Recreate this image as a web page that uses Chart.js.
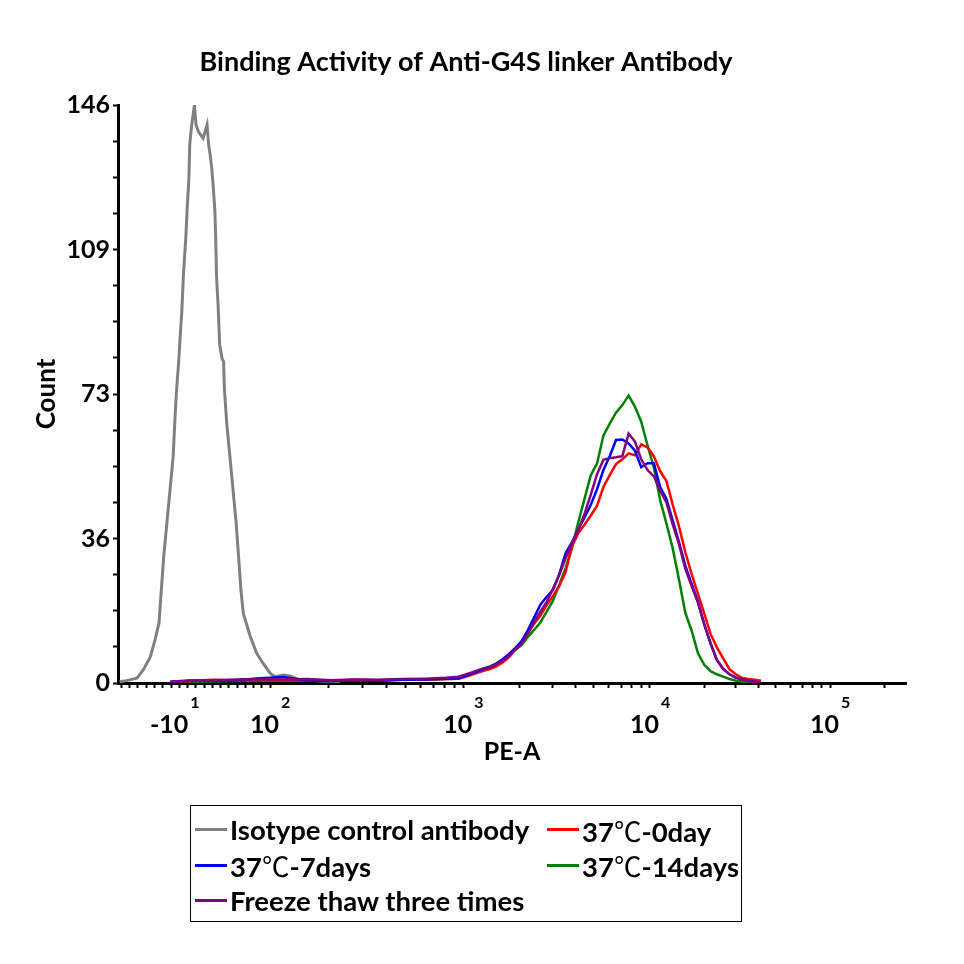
<!DOCTYPE html>
<html>
<head>
<meta charset="utf-8">
<script src="https://cdn.jsdelivr.net/npm/chart.js@4.4.0/dist/chart.umd.min.js"></script>
<style>
  body { margin: 0; background: #fff; }
  #wrap { position: relative; width: 964px; height: 964px; }
  #legend {
    position: absolute; left: 190px; top: 805px; width: 552px; height: 117px;
    box-sizing: border-box; border: 1px solid #000; padding: 6px 0 0 4px;
    display: grid; grid-template-columns: 352px auto; grid-auto-rows: 35.5px;
    font: bold 27.5px Lato, 'Noto Sans CJK SC', sans-serif; color: #000;
  }
  .item { display: flex; align-items: center; white-space: nowrap; }
  .swatch { width: 32px; height: 3px; margin-right: 3px; flex: none; }
  .deg { font-family: 'Noto Sans CJK SC'; font-weight: normal; }
</style>
</head>
<body>
<div id="wrap">
  <canvas id="histChart" width="964" height="964"></canvas>
  <div id="legend"></div>
</div>
<script>
// Binding activity histograms (PE-A), counts per display channel (0..1000 across the plot)
var seriesNames = ['Isotype control antibody', '37℃-0day', '37℃-7days', '37℃-14days', 'Freeze thaw three times'];
var seriesColors = ['#808080', '#ff0000', '#0000ff', '#008000', '#800080'];

var isoChannels = [2, 11, 24, 32, 41, 47, 52, 55, 58, 62, 66, 70, 72, 74, 77, 79, 81, 83, 86, 88,
  90, 91, 93, 97, 99, 102, 108, 113, 115, 117, 119, 121, 123, 124, 125, 127, 129, 132, 134, 135,
  138, 142, 146, 150, 153, 156, 159, 168, 176, 184, 193, 199, 210, 218, 231, 256, 282];
var isoCounts = [0.3, 0.6, 1.2, 3.3, 6.6, 10.9, 15.1, 23.5, 31.9, 40.3, 48.7, 57.2, 65.6, 73, 81.2, 87.9, 93.8, 103, 112.3, 120.7,
  127.5, 135.9, 140.1, 146, 141, 139.3, 137.6, 141, 136, 133.4, 130, 125, 119, 112.3, 103, 95.5, 85.4, 82, 81.2, 74.4,
  65.6, 57.2, 48.7, 40.3, 31.9, 23.5, 17.6, 11.7, 7.5, 5, 2.5, 1.6, 2, 1.8, 0.8, 0.5, 0.3];

var posChannels = [66, 90, 120, 150, 180, 210, 240, 270, 300, 330, 360, 390, 416,
  432, 440, 448, 456, 464, 472, 480, 488, 496, 504, 512, 520, 528, 536, 544, 552, 560, 568, 576, 584,
  592, 600, 608, 616, 624, 632, 640, 648, 656, 664, 672, 680, 688, 696, 704, 712, 720, 728, 736, 744,
  752, 760, 768, 776, 784, 792, 800, 808, 816];
var day0Counts = [0.2, 0.5, 0.8, 0.6, 1.0, 0.7, 0.9, 0.6, 0.8, 0.7, 0.9, 0.8, 1.0,
  1.1, 1.5, 2.0, 2.6, 3.1, 3.5, 4.2, 5.2, 6.5, 8.5, 10.4, 12.5, 15, 17, 19.7, 22, 24.5, 28, 34.5, 37.8,
  40, 42.3, 44.8, 49.5, 52.5, 55.3, 56.5, 58, 57.5, 60.3, 59.5, 57.3, 53.5, 51, 45, 39.5, 33, 27.5, 22.5, 17.5,
  12.4, 9, 6.2, 3.5, 2.2, 1.3, 1.0, 0.8, 0.6];
var day7Counts = [0.3, 0.6, 0.5, 0.7, 1.2, 1.5, 0.6, 0.5, 0.7, 0.6, 0.8, 0.9, 1.1,
  1.2, 1.7, 2.3, 2.9, 3.5, 4.0, 4.9, 6.0, 7.3, 8.8, 10.5, 13.3, 16.5, 19.8, 21.8, 23.5, 27.5, 32.8, 35.5, 38.7,
  41.8, 45, 49, 53.8, 57.3, 61.4, 61.5, 60.5, 58.7, 54.5, 55.5, 55.5, 49.5, 46.5, 41, 35.5, 29.6, 25, 20.5, 14.8,
  10, 5.8, 3.5, 2.2, 1.3, 0.9, 0.6, 0.3, 0];
var day14Counts = [0.1, 0.3, 0.4, 0.5, 0.6, 0.5, 0.6, 0.5, 0.7, 0.6, 0.8, 0.9, 1.0,
  1.1, 1.8, 2.4, 3.0, 3.7, 4.2, 4.9, 5.8, 7.0, 8.3, 9.6, 11.6, 13.4, 15.3, 18.0, 20.8, 24.8, 29, 34, 40.5,
  46.5, 52.5, 55.5, 62.5, 65.5, 68.3, 70.2, 72.6, 69.8, 66, 60, 54.5, 46.2, 40.3, 34, 26, 17.7, 13.2, 7.5, 4.6,
  3, 2.2, 1.6, 1.0, 0.6, 0.3, 0.2, 0.1, 0];
var freezeCounts = [0.3, 0.5, 0.7, 0.9, 1.0, 0.9, 1.0, 0.7, 0.9, 0.8, 1.0, 1.1, 1.3,
  1.6, 2.1, 2.6, 3.2, 3.7, 4.0, 4.7, 5.6, 6.8, 8.4, 9.8, 12.5, 15.3, 18, 20.5, 23.8, 27.3, 31.5, 35.3, 38.6,
  42.7, 47.6, 52.8, 56.4, 56.8, 57, 57.3, 63, 61, 56.5, 53.8, 52.2, 48.6, 45.6, 40, 35, 28.8, 24.5, 20.3, 14.8,
  10, 5.8, 3.6, 2.2, 1.4, 0.9, 0.5, 0.2, 0];

// axis values
var yMax = 146;
var xMajorValues = [-10, 100, 1000, 10000, 100000];

// biexponential display: linear up to 10^2, log decades above
var decadeChannel = [192.9, 438.2, 675.1, 903.6]; // 10^2 .. 10^5
var linPerUnit = 1.047;
function toChannel(v) {
  if (v <= 100) return decadeChannel[0] + (v - 100) * linPerUnit;
  var d = Math.log10(v) - 2;
  var i = Math.min(Math.floor(d), 2);
  return decadeChannel[i] + (d - i) * (decadeChannel[i + 1] - decadeChannel[i]);
}

var xTickValues = [];
for (var v = -80; v < 100; v += 10) xTickValues.push(v);
[100, 1000, 10000].forEach(function (dec) {
  for (var m = 1; m < 10; m++) xTickValues.push(m * dec);
});
xTickValues.push(100000, 200000);

function points(chs, counts) {
  return chs.map(function (c, i) { return {x: c, y: counts[i]}; });
}

// 10^n labels with raised exponent
var expLabels = {
  id: 'expLabels',
  afterDraw: function (chart) {
    var ctx = chart.ctx, xs = chart.scales.x;
    ctx.save();
    ctx.fillStyle = '#000';
    ctx.textBaseline = 'middle';
    xMajorValues.forEach(function (v) {
      var px = xs.getPixelForValue(toChannel(v));
      ctx.font = 'bold 25px Lato';
      ctx.textAlign = 'right';
      ctx.fillText(v < 0 ? '-10' : '10', px + 9, xs.top + 42);
      ctx.font = 'bold 16px Lato';
      ctx.textAlign = 'left';
      ctx.fillText(String(Math.round(Math.log10(Math.abs(v)))), px + 11, xs.top + 20);
    });
    ctx.restore();
  }
};

Chart.defaults.font.family = "Lato, 'Noto Sans CJK SC', sans-serif";
Chart.defaults.color = '#000';

var allCounts = [isoCounts, day0Counts, day7Counts, day14Counts, freezeCounts];
var drawOrder = [4, 2, 1, 3, 0];
var datasets = seriesNames.map(function (name, i) {
  return {
    label: name,
    data: points(i === 0 ? isoChannels : posChannels, allCounts[i]),
    borderColor: seriesColors[i],
    backgroundColor: seriesColors[i],
    borderWidth: i === 0 ? 3 : 2.5,
    order: drawOrder[i]
  };
});

var axisBorder = {display: true, color: '#000', width: 3};
var axisGrid = {drawOnChartArea: false, drawTicks: true, tickLength: 5, tickWidth: 2, tickColor: '#000'};

var ctx = document.getElementById('histChart').getContext('2d');
var chart = new Chart(ctx, {
  type: 'line',
  data: {datasets: datasets},
  options: {
    responsive: false,
    animation: false,
    devicePixelRatio: 1,
    layout: {padding: {left: 26, right: 58, top: 0, bottom: 191}},
    elements: {point: {radius: 0}, line: {tension: 0}},
    plugins: {
      legend: {display: false},
      tooltip: {enabled: false},
      title: {
        display: true,
        text: 'Binding Activity of Anti-G4S linker Antibody',
        font: {size: 27, weight: 'bold'},
        color: '#000',
        padding: {top: 46, bottom: 26.6}
      }
    },
    scales: {
      x: {
        type: 'linear',
        min: 0,
        max: 1000,
        afterBuildTicks: function (s) {
          s.ticks = xTickValues.map(function (v) { return {value: toChannel(v)}; });
        },
        afterFit: function (s) { s.height = 90; },
        ticks: {display: false},
        grid: axisGrid,
        border: axisBorder,
        title: {display: true, text: 'PE-A', font: {size: 25, weight: 'bold'}, padding: {top: 0, bottom: 6}}
      },
      y: {
        min: 0,
        max: yMax,
        afterBuildTicks: function (s) {
          var t = [];
          for (var k = 0; k <= 16; k++) t.push({value: k * yMax / 16});
          s.ticks = t;
        },
        afterFit: function (s) { s.width = 92; },
        ticks: {
          autoSkip: false,
          padding: 3,
          font: {size: 25, weight: 'bold'},
          callback: function (val, i) { return i % 4 === 0 ? String(Math.floor(val)) : ''; }
        },
        grid: axisGrid,
        border: axisBorder,
        title: {display: true, text: 'Count', font: {size: 26, weight: 'bold'}, padding: {top: 5, bottom: 0}}
      }
    }
  },
  plugins: [expLabels]
});

// legend box, two columns; the degree sign set in the CJK face as in the original
var legendEl = document.getElementById('legend');
chart.data.datasets.forEach(function (ds) {
  var item = document.createElement('div');
  item.className = 'item';
  var sw = document.createElement('span');
  sw.className = 'swatch';
  sw.style.background = ds.borderColor;
  var txt = document.createElement('span');
  ds.label.split('℃').forEach(function (part, k) {
    if (k > 0) {
      var deg = document.createElement('span');
      deg.className = 'deg';
      deg.textContent = '℃';
      txt.appendChild(deg);
    }
    txt.appendChild(document.createTextNode(part));
  });
  item.appendChild(sw);
  item.appendChild(txt);
  legendEl.appendChild(item);
});
</script>
</body>
</html>
